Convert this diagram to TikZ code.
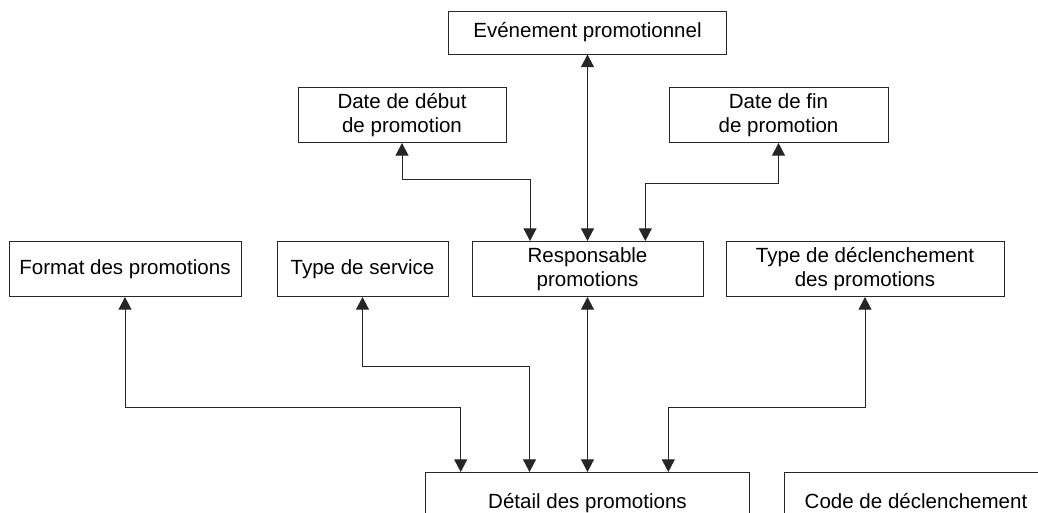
\documentclass[tikz,border=0pt]{standalone}
\usepackage{fontspec}
\setmainfont{Liberation Sans}
\usetikzlibrary{arrows.meta,calc}
\begin{document}
\begin{tikzpicture}[x=0.75pt,y=-0.75pt,
  entity/.style={draw=black!85, line width=0.75pt, fill=white, inner sep=0pt,
    align=center, font=\fontsize{15.4}{18}\selectfont},
  oneline/.style={text height=11.2pt, text depth=3.2pt},
  link/.style={draw=black!85, line width=0.75pt, {Triangle[length=9.5pt,width=9.75pt]}-{Triangle[length=9.5pt,width=9.75pt]}}]
\useasboundingbox (0,0) rectangle (1038,512);

% top level
\node[entity, minimum width=278*0.75pt, minimum height=43*0.75pt] (ev) at (587.5,32.5) {Evénement promotionnel};
\node[entity, minimum width=208*0.75pt, minimum height=55*0.75pt] (dd) at (402,115) {Date de début\\de promotion};
\node[entity, minimum width=219*0.75pt, minimum height=55*0.75pt] (df) at (778.5,115) {Date de fin\\de promotion};

% middle row
\node[entity, minimum width=232*0.75pt, minimum height=55*0.75pt] (fp) at (125,269) {Format des promotions};
\node[entity, minimum width=171*0.75pt, minimum height=55*0.75pt] (ts) at (362.5,269) {Type de service};
\node[entity, minimum width=231*0.75pt, minimum height=55*0.75pt] (rp) at (587.5,269) {Responsable\\promotions};
\node[entity, minimum width=278*0.75pt, minimum height=55*0.75pt] (td) at (865,269) {Type de déclenchement\\des promotions};

% bottom row (runs past the lower edge)
\node[entity, oneline, minimum width=324*0.75pt, minimum height=62*0.75pt] (dp) at (587.5,503.5) {Détail des promotions};
\node[entity, oneline, minimum width=264*0.75pt, minimum height=62*0.75pt] (cd) at (916,503.5) {Code de déclenchement};

% links to the promotion manager
\draw[link] (ev.south) -- (rp.north);
\draw[link] (dd.south) -- ++(0,36.3) -| ($(rp.north)+(-57.5,0)$);
\draw[link] (df.south) -- ++(0,40.4) -| ($(rp.north)+(57.8,0)$);

% links to the promotion detail
\draw[link] (fp.south) -- ++(0,110.2) -| ($(dp.north)+(-126.8,0)$);
\draw[link] (ts.south) -- ++(0,69.8) -| ($(dp.north)+(-58,0)$);
\draw[link] (rp.south) -- (dp.north);
\draw[link] (td.south) -- ++(0,110.3) -| ($(dp.north)+(80.8,0)$);
\end{tikzpicture}
\end{document}
